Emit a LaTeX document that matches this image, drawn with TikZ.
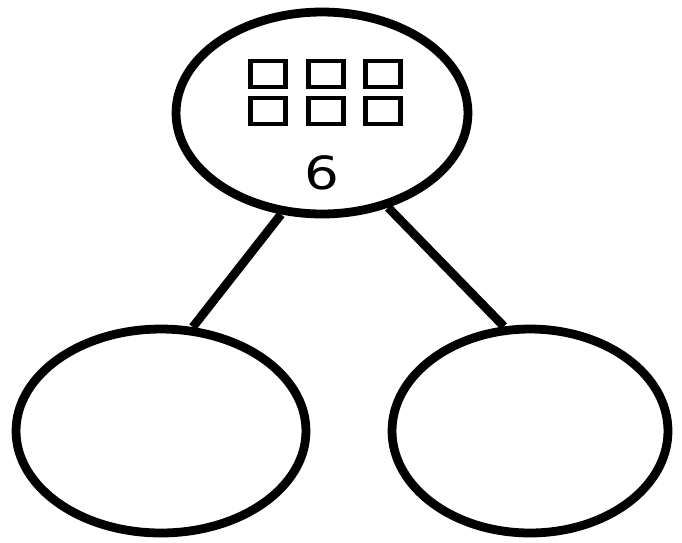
\documentclass[tikz,border=0pt]{standalone}
\usepackage{fontspec}
\setmainfont{DejaVu Sans}
\usetikzlibrary{shapes.geometric}

\begin{document}
\begin{tikzpicture}[
    x=0.02cm, y=-0.02cm,
    part/.style={ellipse, draw=black, line width=5pt, inner sep=0pt, minimum width=5.84cm, minimum height=4.04cm},
    box/.style={rectangle, draw=black, line width=2.4pt, inner sep=0pt, minimum width=0.7cm, minimum height=0.52cm},
    link/.style={line width=5pt, draw=black}
]
\useasboundingbox (0,0) rectangle (682,542);

\node[part] (whole) at (322,113) {};
\node[part, minimum width=5.8cm, minimum height=4.08cm] (left) at (161,431) {};
\node[part, minimum width=5.52cm, minimum height=4.08cm] (right) at (530,431) {};

% six squares
\foreach \col/\x in {1/268,2/326,3/383}
  \foreach \row/\y in {1/74,2/111}
    \node[box] (sq-\row-\col) at (\x,\y) {};

\node[font=\fontsize{26}{26}\selectfont, xscale=1.2] (total) at (322,173) {6};

\draw[link] (whole.248) -- (left.73);
\draw[link] (whole.305) -- (right.104);

\end{tikzpicture}
\end{document}
